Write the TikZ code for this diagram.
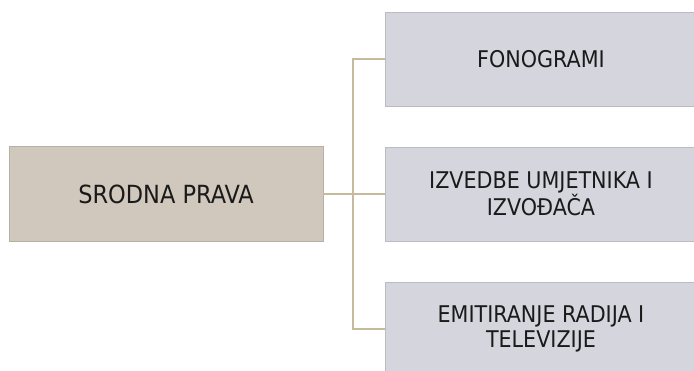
\documentclass[tikz,border=0pt]{standalone}
\usepackage{fontspec}
\setmainfont{DejaVu Sans Condensed}
\definecolor{rootfill}{HTML}{D0C8BC}
\definecolor{leaffill}{HTML}{D5D5DD}
\definecolor{conncol}{HTML}{C6BA9C}
\definecolor{textcol}{HTML}{1A1A1A}
\begin{document}
\begin{tikzpicture}[
    x=1pt, y=-1pt,
    line width=1.2pt,
    every node/.style={rectangle, inner sep=0pt, align=center, text=textcol,
      font=\fontsize{25}{25.5}\selectfont},
    rootbox/.style={fill=rootfill, draw=rootfill!88!black, line width=0.8pt,
      minimum width=314pt, minimum height=95pt},
    leafbox/.style={fill=leaffill, draw=leaffill!88!black, line width=0.8pt,
      minimum width=312pt, minimum height=94pt,
      font=\fontsize{23}{25}\selectfont},
    conn/.style={draw=conncol, line width=1.2pt}
]
  \useasboundingbox (0,0) rectangle (694,371);
  \fill[white] (0,0) rectangle (694,371);

  %--- exact positions ---
  \node[rootbox] (rights) at (166,194) {SRODNA PRAVA};
  \node[leafbox] (phono)  at (541,59)  {FONOGRAMI};
  \node[leafbox] (perf)   at (541,194) {IZVEDBE UMJETNIKA I\\IZVOĐAČA};
  \node[leafbox] (broad)  at (541,329) {EMITIRANJE RADIJA I\\TELEVIZIJE};
  \coordinate (fork) at (353,194);

  %--- connectors ---
  \draw[conn] (rights.east) -- (fork);
  \draw[conn] (fork) |- (phono.west);
  \draw[conn] (fork) -- (perf.west);
  \draw[conn] (fork) |- (broad.west);
\end{tikzpicture}
\end{document}
